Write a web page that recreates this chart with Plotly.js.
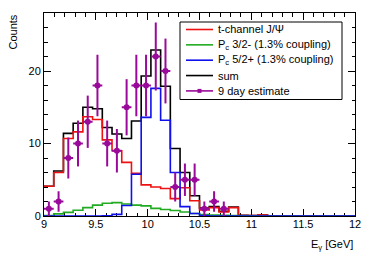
<!DOCTYPE html>
<html>
<head>
<meta charset="utf-8">
<script src="https://cdn.plot.ly/plotly-3.0.1.min.js"></script>
<style>html,body{margin:0;padding:0;background:#fff;}#chart{width:374px;height:255px;}</style>
</head>
<body>
<div id="chart"></div>
<script>
// ---- data ----
const binLow = 9, binHigh = 12, nBins = 32;
const tChannel = [4.1,6.0,10.7,11.6,13.7,13.3,10.5,9.0,7.4,5.9,4.3,4.0,3.8,2.4,3.9,2.1,0.85,1.15,0.55,1.15,0.05,0.05,0.12,0,0,0,0,0,0,0,0,0];
const pc32m = [0.05,0.3,0.5,0.8,1.15,1.5,1.75,1.85,1.65,1.5,1.4,1.05,0.9,0.75,0.55,0.35,0.2,0.12,0.08,0.05,0.03,0.02,0.01,0,0,0,0,0,0,0,0,0];
const pc52p = [0,0,0,0,0,0,0.03,0.23,1.45,5.75,13.6,17.6,13.2,6.0,1.3,0.35,0.05,0,0,0,0,0,0,0,0,0,0,0,0,0,0,0];
const sumH = [4.1,6.2,11.4,12.8,15.0,14.8,12.2,11.3,10.7,13.1,19.3,22.9,17.9,9.3,6.0,2.8,1.1,1.3,0.65,1.25,0.1,0.05,0.12,0,0,0,0,0,0,0,0,0];
const estimate9d = [1,2,8,10,13,18,10,9,15,18,18,22,20,4,5,5,1,2,1,0,0,0,0,0,0,0,0,0,0,0,0,0];
const legendLabels = ["t-channel J/Ψ","P<sub>c</sub> 3/2- (1.3% coupling)","P<sub>c</sub> 5/2+ (1.3% coupling)","sum","9 day estimate"];

// ---- binning ----
const bw = (binHigh - binLow) / nBins;
const edges = Array.from({length: nBins + 1}, (_, i) => binLow + i * bw);
const centers = edges.slice(0, nBins).map(e => e + bw / 2);

const C = {red:'#ee1111', green:'#22aa22', blue:'#1010ee', black:'#000000', mag:'#9a0a9a'};

function hist(vals, color) {
  return {x: edges, y: vals.concat([vals[vals.length-1]]), type:'scatter', mode:'lines',
    line:{shape:'hv', color: color, width:1.6}, cliponaxis:false, hoverinfo:'skip', showlegend:false};
}
const di = estimate9d.map((v,i)=>i).filter(i=>estimate9d[i]>0);
const dataTrace = {
  x: di.map(i=>centers[i]), y: di.map(i=>estimate9d[i]), type:'scatter', mode:'markers',
  marker:{color:C.mag, size:6, symbol:'circle'},
  error_y:{type:'data', array: di.map(i=>Math.sqrt(estimate9d[i])), color:C.mag, thickness:2, width:0},
  error_x:{type:'constant', value: bw/2, color:C.mag, thickness:2, width:0},
  cliponaxis:false, showlegend:false, hoverinfo:'skip'
};

const traces = [hist(sumH, C.black), hist(tChannel, C.red), hist(pc32m, C.green), hist(pc52p, C.blue), dataTrace];

// ---- layout helpers (pixel -> paper) ----
const W = 374, H = 255, L = 44, R = 355, T = 13, B = 216;
const px = x => (x - L) / (R - L);
const py = y => (B - y) / (B - T);

const shapes = [];
const annotations = [];
shapes.push({type:'rect', xref:'paper', yref:'paper', x0:px(180), x1:px(342), y0:py(99.5), y1:py(22), line:{color:'#000', width:1}, fillcolor:'#fff', layer:'above'});
const legColors = [C.red, C.green, C.blue, C.black, C.mag];
legendLabels.forEach((lab, k) => {
  const yy = 29.5 + k * 15.35;
  shapes.push({type:'line', xref:'paper', yref:'paper', x0:px(186), x1:px(213), y0:py(yy), y1:py(yy), line:{color:legColors[k], width:1.6}});
  annotations.push({xref:'paper', yref:'paper', x:px(216), y:py(yy), xanchor:'left', yanchor:'middle', text:lab, showarrow:false, font:{size:11, color:'#000'}});
});
shapes.push({type:'rect', xref:'paper', yref:'paper', x0:px(197.5), x1:px(201.5), y0:py(29.5+4*15.35+2), y1:py(29.5+4*15.35-2), line:{width:0}, fillcolor:C.mag});

annotations.push({xref:'paper', yref:'paper', x:px(12), y:1, xanchor:'center', yanchor:'top', textangle:-90, text:'Counts', showarrow:false, font:{size:11, color:'#000'}});
annotations.push({xref:'paper', yref:'paper', x:1, y:py(236), xanchor:'right', yanchor:'top', text:'E<sub>γ</sub> [GeV]', showarrow:false, font:{size:11, color:'#000'}});

const layout = {
  width: W, height: H,
  margin: {l: L, r: W - R, t: T, b: H - B, pad: 0},
  paper_bgcolor:'#fff', plot_bgcolor:'#fff',
  font: {family:'"Liberation Sans", Arial, sans-serif', size:11, color:'#000'},
  showlegend:false,
  xaxis: {range:[binLow, binHigh], dtick:0.5, tick0:9, ticks:'inside', ticklen:7, tickwidth:1, tickcolor:'#000',
    minor:{dtick:0.1, ticks:'inside', ticklen:3.5, tickcolor:'#000', tickwidth:1, showgrid:false},
    showline:true, linecolor:'#000', linewidth:1, mirror:'allticks', showgrid:false, zeroline:false,
    ticklabelstandoff:-2,
    layer:'below traces', fixedrange:true, tickfont:{size:11}},
  yaxis: {range:[0, 28], dtick:10, tick0:0, ticks:'inside', ticklen:7, tickwidth:1, tickcolor:'#000',
    minor:{dtick:2, ticks:'inside', ticklen:3.5, tickcolor:'#000', tickwidth:1, showgrid:false},
    showline:true, linecolor:'#000', linewidth:1, mirror:'allticks', showgrid:false, zeroline:false,
    layer:'below traces', fixedrange:true, tickfont:{size:11}},
  shapes: shapes, annotations: annotations
};
Plotly.newPlot('chart', traces, layout, {staticPlot:true, displayModeBar:false});
</script>
</body>
</html>
